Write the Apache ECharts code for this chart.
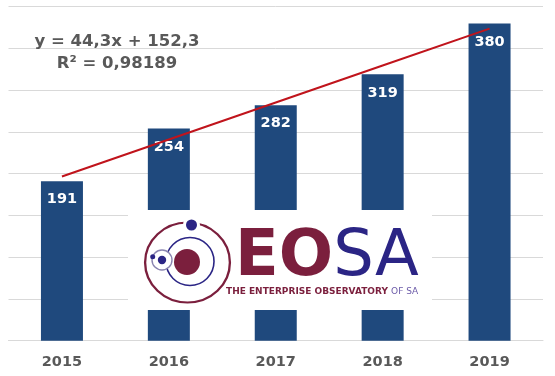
<!DOCTYPE html>
<html>
<head>
    <meta charset="utf-8">
    <title>EOSA</title>
    <script src="https://cdn.jsdelivr.net/npm/echarts@6/dist/echarts.min.js"></script>
    <style>
        html, body { margin: 0; padding: 0; background: #fff; }
    </style>
</head>
<body>
    <div id="main" style="width: 555px;height:376px;"></div>
    <script type="text/javascript">

// data
var years = ['2015', '2016', '2017', '2018', '2019'];
var counts = [191, 254, 282, 319, 380];
// linear trend line (y = 44,3x + 152,3) as it is drawn
var trend = [196.6, 240.9, 285.2, 329.5, 373.8];
var equationLines = ['y = 44,3x + 152,3', 'R² = 0,98189'];

var navy = '#1f497d';
var wine = '#7b1f3d';
var indigo = '#2b2585';
var grey = '#595959';

var myChart = echarts.init(document.getElementById('main'));

function eqText(str, y) {
    return {
        type: 'text',
        z: 10,
        style: {
            x: 117,
            y: y,
            text: str,
            fill: grey,
            font: 'bold 16.5px "DejaVu Sans"',
            align: 'center',
            verticalAlign: 'middle'
        }
    };
}

var option = {
    animation: false,
    grid: {
        left: 8.5,
        right: 12,
        top: 6.7,
        bottom: 35.3
    },
    xAxis: {
        type: 'category',
        data: years,
        axisLine: { lineStyle: { color: '#d9d9d9', width: 1 } },
        axisTick: { show: false },
        axisLabel: {
            color: grey,
            fontFamily: 'DejaVu Sans',
            fontWeight: 'bold',
            fontSize: 14.5,
            margin: 14
        }
    },
    yAxis: {
        type: 'value',
        min: 0,
        max: 400,
        interval: 50,
        axisLabel: { show: false },
        axisLine: { show: false },
        axisTick: { show: false },
        splitLine: { lineStyle: { color: '#d9d9d9', width: 1 } }
    },
    series: [
        {
            type: 'bar',
            data: counts,
            barWidth: 42,
            itemStyle: { color: navy },
            label: {
                show: true,
                position: 'insideTop',
                distance: 11,
                color: '#fff',
                fontFamily: 'DejaVu Sans',
                fontWeight: 'bold',
                fontSize: 14.5
            },
            z: 2
        },
        {
            type: 'line',
            data: trend,
            symbol: 'none',
            lineStyle: { color: '#c0141c', width: 2 },
            z: 3
        }
    ],
    graphic: [
        eqText(equationLines[0], 41.7),
        eqText(equationLines[1], 63.3),
        // white patch behind the logo
        {
            type: 'rect',
            z: 20,
            shape: { x: 128, y: 210, width: 304, height: 100 },
            style: { fill: '#fff' }
        },
        {
            type: 'circle',
            z: 21,
            shape: { cx: 0, cy: 0, r: 40 },
            x: 187.5,
            y: 262.5,
            scaleX: 1.06,
            style: { fill: 'none', stroke: wine, lineWidth: 2.2, strokeNoScale: true }
        },
        {
            type: 'circle',
            z: 22,
            shape: { cx: 191.5, cy: 225, r: 7 },
            style: { fill: indigo, stroke: '#fff', lineWidth: 3 }
        },
        {
            type: 'circle',
            z: 21,
            shape: { cx: 190, cy: 261.5, r: 24 },
            style: { fill: 'none', stroke: indigo, lineWidth: 1.6 }
        },
        {
            type: 'circle',
            z: 22,
            shape: { cx: 187, cy: 262, r: 13 },
            style: { fill: wine }
        },
        {
            type: 'circle',
            z: 22,
            shape: { cx: 162, cy: 260, r: 10 },
            style: { fill: '#fff', stroke: '#8a84b0', lineWidth: 1.4 }
        },
        {
            type: 'circle',
            z: 23,
            shape: { cx: 162, cy: 260, r: 4.2 },
            style: { fill: indigo }
        },
        {
            type: 'circle',
            z: 23,
            shape: { cx: 152.7, cy: 256.7, r: 2.5 },
            style: { fill: indigo }
        },
        {
            type: 'text',
            z: 22,
            style: {
                x: 235,
                y: 258,
                text: '{eo|EO}{sa|SA}',
                verticalAlign: 'middle',
                rich: {
                    eo: {
                        fill: wine,
                        fontFamily: 'DejaVu Sans',
                        fontWeight: 'bold',
                        fontSize: 64
                    },
                    sa: {
                        fill: indigo,
                        fontFamily: 'DejaVu Sans',
                        fontSize: 64
                    }
                }
            }
        },
        {
            type: 'text',
            z: 22,
            style: {
                x: 226,
                y: 292,
                text: '{a|THE ENTERPRISE OBSERVATORY }{b|OF SA}',
                verticalAlign: 'middle',
                rich: {
                    a: {
                        fill: wine,
                        fontFamily: 'DejaVu Sans',
                        fontWeight: 'bold',
                        fontSize: 9
                    },
                    b: {
                        fill: '#6b5aa8',
                        fontFamily: 'DejaVu Sans',
                        fontSize: 9
                    }
                }
            }
        }
    ]
};

myChart.setOption(option);
    </script>
</body>
</html>
